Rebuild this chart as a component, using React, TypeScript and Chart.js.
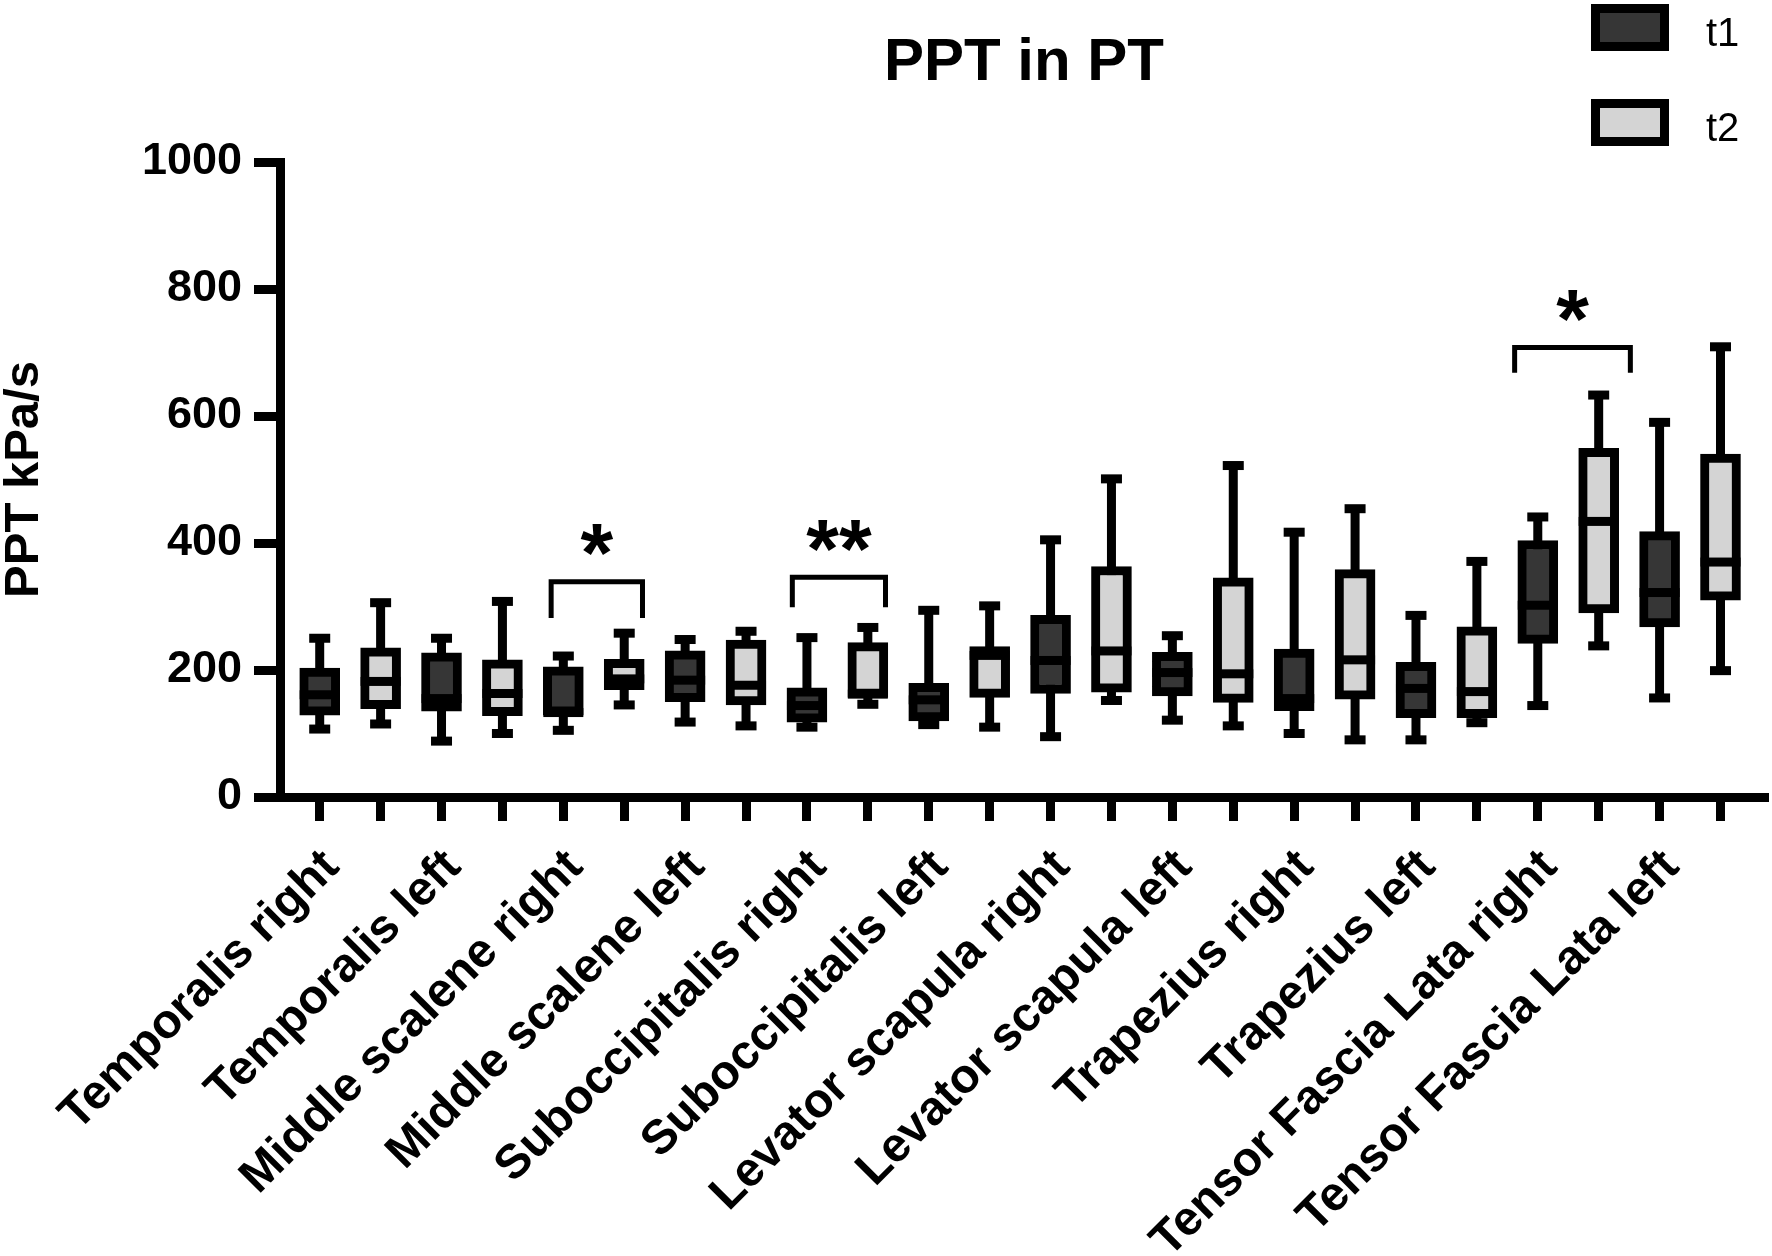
import React, { useEffect, useRef } from 'react';
import { Chart, registerables } from 'chart.js';

Chart.register(...registerables);

// ---- data ----
const categories = [
  'Temporalis right', 'Temporalis left', 'Middle scalene right', 'Middle scalene left',
  'Suboccipitalis right', 'Suboccipitalis left', 'Levator scapula right', 'Levator scapula left',
  'Trapezius right', 'Trapezius left', 'Tensor Fascia Lata right', 'Tensor Fascia Lata left',
];
const seriesNames = ['t1', 't2'];

const t1Min = [107, 88, 105, 118, 110, 114, 95, 121, 100, 90, 144, 156];
const t1Q1 = [129, 135, 129, 150, 118, 120, 163, 159, 136, 125, 242, 268];
const t1Median = [161, 155, 133, 184, 144, 153, 215, 196, 155, 171, 302, 322];
const t1Q3 = [203, 227, 205, 230, 172, 179, 286, 228, 233, 212, 404, 418];
const t1Max = [250, 250, 222, 248, 251, 294, 405, 254, 417, 286, 441, 590];

const t2Min = [115, 100, 145, 112, 146, 110, 152, 112, 90, 117, 238, 199];
const t2Q1 = [139, 128, 169, 145, 157, 157, 165, 149, 154, 125, 290, 310];
const t2Median = [182, 163, 186, 176, 162, 223, 230, 194, 216, 166, 434, 370];
const t2Q3 = [235, 216, 217, 247, 243, 237, 363, 345, 358, 268, 549, 540];
const t2Max = [306, 308, 258, 261, 267, 301, 501, 522, 454, 371, 633, 709];

const yTicks = [0, 200, 400, 600, 800, 1000];

// significance brackets (category index, label, bracket top value, leg end value)
const sigCategory = [2, 4, 10];
const sigLabel = ['*', '**', '*'];
const sigTop = [339, 346, 708];
const sigBottom = [282, 299, 668];

// ---- styles ----
const FONT = '"Liberation Sans", Arial, Helvetica, sans-serif';
const t1Fill = '#363636';
const t2Fill = '#d4d4d4';
const LINE = 9;
const BOX_W = 40;
const CAP_W = 21;
const bracketOffsets = [[-0.2, 0.3], [-0.24, 0.29], [-0.38, 0.52]];

const series = [
  { name: seriesNames[0], fill: t1Fill, shift: 0, min: t1Min, q1: t1Q1, med: t1Median, q3: t1Q3, max: t1Max },
  { name: seriesNames[1], fill: t2Fill, shift: 1, min: t2Min, q1: t2Q1, med: t2Median, q3: t2Q3, max: t2Max },
];

const xPositions = categories.flatMap((_, i) => [2 * i, 2 * i + 1]);

const boxExtras = {
  id: 'boxExtras',
  beforeDatasetsDraw(chart: any) {
    const { ctx, scales } = chart;
    const x = scales.x, y = scales.y;
    ctx.save();
    ctx.fillStyle = '#000';
    series.forEach((s) => {
      categories.forEach((_, i) => {
        const cx = x.getPixelForValue(2 * i + s.shift);
        const top = y.getPixelForValue(s.max[i]);
        const bot = y.getPixelForValue(s.min[i]);
        ctx.fillRect(cx - LINE / 2, top, LINE, bot - top);
      });
    });
    ctx.restore();
  },
  afterDatasetsDraw(chart: any) {
    const { ctx, scales } = chart;
    const x = scales.x, y = scales.y;
    ctx.save();
    ctx.fillStyle = '#000';
    series.forEach((s) => {
      categories.forEach((_, i) => {
        const cx = x.getPixelForValue(2 * i + s.shift);
        const pTop = y.getPixelForValue(s.max[i]);
        const pBot = y.getPixelForValue(s.min[i]);
        const pMed = y.getPixelForValue(s.med[i]);
        ctx.fillRect(cx - CAP_W / 2, pTop - LINE / 2, CAP_W, LINE);
        ctx.fillRect(cx - CAP_W / 2, pBot - LINE / 2, CAP_W, LINE);
        ctx.fillRect(cx - BOX_W / 2, pMed - LINE / 2, BOX_W, LINE);
      });
    });
    // significance brackets
    ctx.strokeStyle = '#000';
    ctx.lineWidth = 5;
    ctx.lineJoin = 'miter';
    ctx.lineCap = 'butt';
    sigCategory.forEach((c, k) => {
      const xl = x.getPixelForValue(2 * c + bracketOffsets[k][0]);
      const xr = x.getPixelForValue(2 * c + 1 + bracketOffsets[k][1]);
      const yt = y.getPixelForValue(sigTop[k]);
      const yb = y.getPixelForValue(sigBottom[k]);
      ctx.beginPath();
      ctx.moveTo(xl, yb);
      ctx.lineTo(xl, yt);
      ctx.lineTo(xr, yt);
      ctx.lineTo(xr, yb);
      ctx.stroke();
      const size = 84;
      ctx.font = `bold ${size}px ${FONT}`;
      ctx.textAlign = 'center';
      ctx.textBaseline = 'alphabetic';
      ctx.fillText(sigLabel[k], (xl + xr) / 2, yt - 46 + 0.555 * size);
    });
    ctx.restore();
  },
  afterDraw(chart: any) {
    const { ctx } = chart;
    ctx.save();
    series.forEach((s, k) => {
      const bx = 1591, by = 4 + k * 95, bw = 78, bh = 47;
      ctx.fillStyle = '#000';
      ctx.fillRect(bx, by, bw, bh);
      ctx.fillStyle = s.fill;
      ctx.fillRect(bx + LINE, by + LINE, bw - 2 * LINE, bh - 2 * LINE);
      ctx.fillStyle = '#000';
      ctx.font = `40px ${FONT}`;
      ctx.textAlign = 'left';
      ctx.textBaseline = 'alphabetic';
      ctx.fillText(s.name, 1706, by + 42);
    });
    ctx.restore();
  },
};

export default function App() {
  const canvasRef = useRef<HTMLCanvasElement | null>(null);

  useEffect(() => {
    const canvas = canvasRef.current;
    if (!canvas) return;
    const chart = new Chart(canvas, {
      type: 'bar',
      data: {
        datasets: series.map((s) => ({
          label: s.name,
          data: categories.map((_, i) => ({ x: 2 * i + s.shift, y: [s.q1[i], s.q3[i]] })),
          backgroundColor: s.fill,
          borderColor: '#000',
          borderWidth: LINE,
          borderSkipped: false,
          barThickness: BOX_W,
          grouped: false,
        })) as any,
      },
      options: {
        responsive: false,
        animation: false,
        devicePixelRatio: 1,
        events: [],
        layout: { padding: { left: 0, right: 4, top: 0, bottom: 0 } },
        plugins: {
          legend: { display: false },
          tooltip: { enabled: false },
          title: {
            display: true,
            text: 'PPT in PT',
            color: '#000',
            fullSize: false,
            font: { family: FONT, size: 60, weight: 'bold', lineHeight: 1.2 },
            padding: { top: 27, bottom: 63 },
          },
        },
        scales: {
          x: {
            type: 'linear',
            min: -0.652,
            max: 23.78,
            offset: false,
            grid: {
              offset: false,
              drawOnChartArea: false,
              drawTicks: true,
              tickLength: 24,
              tickWidth: LINE,
              tickColor: '#000',
            },
            border: { display: true, color: '#000', width: LINE },
            afterBuildTicks: (scale: any) => {
              scale.ticks = xPositions.map((v) => ({ value: v }));
            },
            afterFit: (scale: any) => {
              scale.height = 459;
              scale.paddingRight = 0;
            },
            ticks: {
              autoSkip: false,
              minRotation: 45,
              maxRotation: 45,
              padding: 18,
              labelOffset: 12,
              color: '#000',
              font: { family: FONT, size: 48, weight: 'bold' },
              callback: (value: any) => {
                const v = Number(value);
                return v % 2 === 0 ? categories[v / 2] : '';
              },
            },
          },
          y: {
            type: 'linear',
            min: 0,
            max: 1000,
            afterBuildTicks: (scale: any) => {
              scale.ticks = yTicks.map((v) => ({ value: v }));
            },
            afterFit: (scale: any) => {
              scale.width = 280;
            },
            grid: {
              drawOnChartArea: false,
              drawTicks: true,
              tickLength: 26,
              tickWidth: LINE,
              tickColor: '#000',
            },
            border: { display: true, color: '#000', width: LINE },
            ticks: {
              padding: 12,
              color: '#000',
              font: { family: FONT, size: 45, weight: 'bold' },
              callback: (value: any) => String(value),
            },
            title: {
              display: true,
              text: 'PPT kPa/s',
              color: '#000',
              font: { family: FONT, size: 49, weight: 'bold', lineHeight: 1 },
              padding: { top: 0, bottom: 0 },
            },
          },
        },
      },
      plugins: [boxExtras],
    });
    return () => chart.destroy();
  }, []);

  return (
    <div style={{ position: 'fixed', left: 0, top: 0, width: 1772, height: 1256, background: '#fff' }}>
      <canvas ref={canvasRef} width={1772} height={1256} style={{ display: 'block', width: 1772, height: 1256 }} />
    </div>
  );
}
